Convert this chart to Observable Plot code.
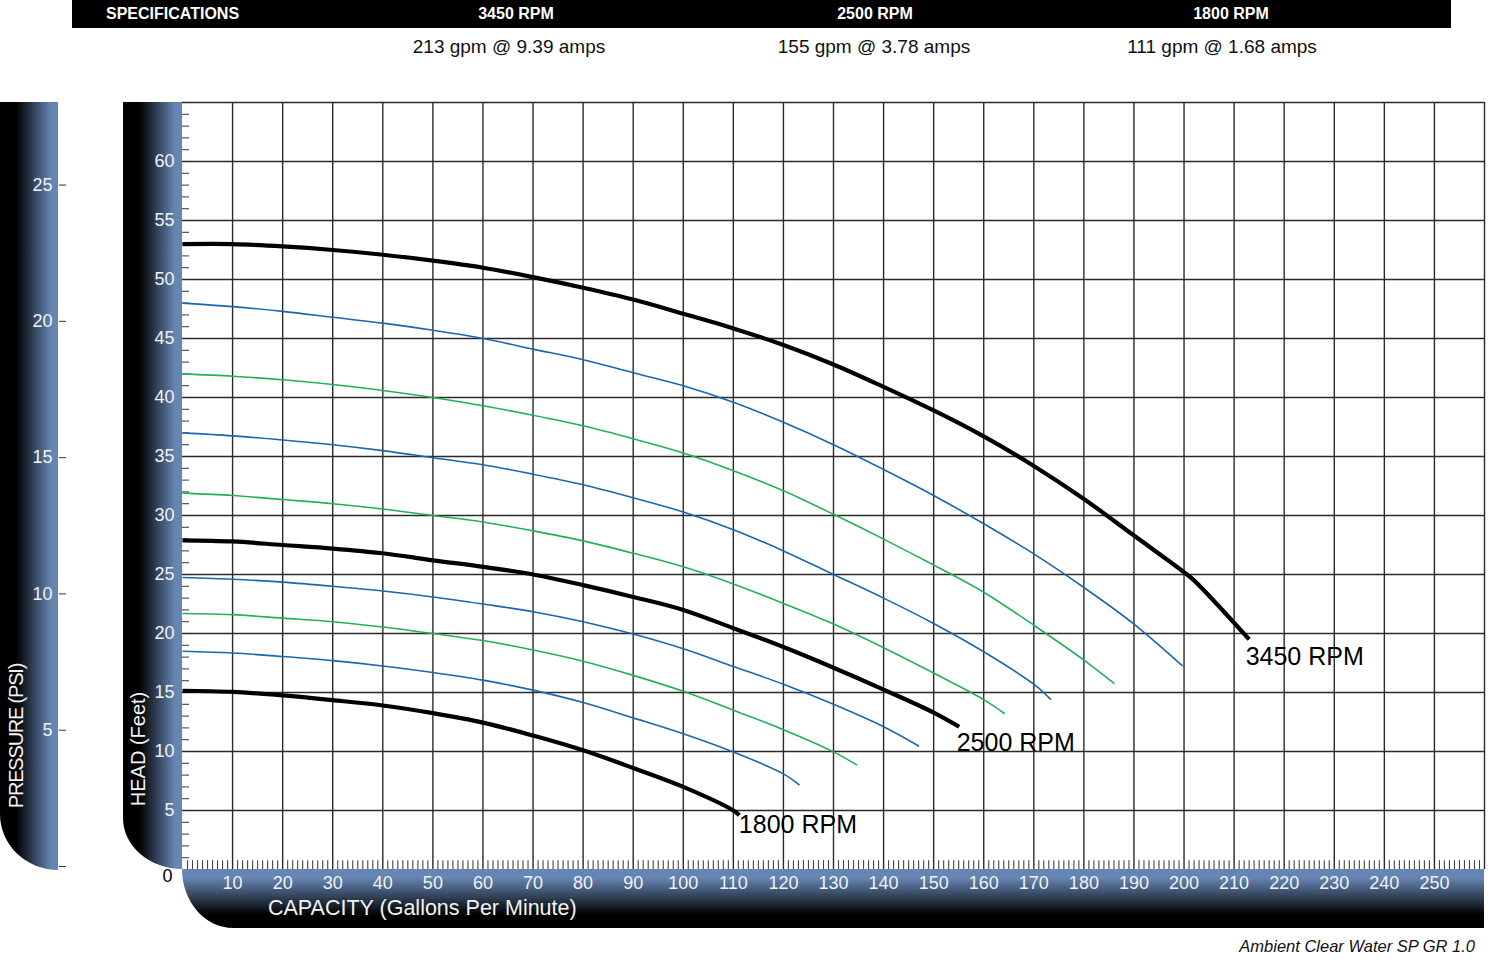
<!DOCTYPE html>
<html>
<head>
<meta charset="utf-8">
<script src="https://cdn.jsdelivr.net/npm/d3@7"></script>
<script src="https://cdn.jsdelivr.net/npm/@observablehq/plot@0.6"></script>
<style>
  body { margin: 0; background: #fff; font-family: "Liberation Sans", Arial, Helvetica, sans-serif; }
  #page { position: relative; width: 1500px; height: 959px; overflow: hidden; }
  .abs { position: absolute; white-space: nowrap; }
  .bandV { background: linear-gradient(to right, #000 0%, #000 28%, #6585b2 88%, #6585b2 100%); }
  .bandH { background: linear-gradient(to bottom, #6585b2 0%, #6585b2 15%, #000 78%, #000 100%); }
  .hdr { color: #fff; font-weight: bold; font-size: 16px; line-height: 28px; top: 0; }
  .spec { color: #111; font-size: 19px; line-height: 24px; top: 35px; }
  .vlabel { color: #f2f2f2; font-size: 20px; transform: translate(-50%, -50%) rotate(-90deg); }
</style>
</head>
<body>
<div id="page">
  <div class="abs" style="left:72px;top:0;width:1379px;height:28px;background:#000"></div>
  <div class="abs bandV" style="left:0;top:102px;width:58px;height:768px;border-bottom-left-radius:58px 56px"></div>
  <div class="abs bandV" style="left:123px;top:102px;width:59px;height:767px;border-bottom-left-radius:59px 51px"></div>
  <div class="abs bandH" style="left:182px;top:869px;width:1302px;height:59px;border-bottom-left-radius:51px 59px"></div>
  <div id="chart"></div>
</div>
<script>
// header texts
const specTitle = "SPECIFICATIONS";
const specRpm = ["3450 RPM", "2500 RPM", "1800 RPM"];
const specFlow = ["213 gpm @ 9.39 amps", "155 gpm @ 3.78 amps", "111 gpm @ 1.68 amps"];

// axis ticks
const gpmTicks = [10, 20, 30, 40, 50, 60, 70, 80, 90, 100, 110, 120, 130, 140, 150, 160, 170, 180, 190, 200, 210, 220, 230, 240, 250];
const headTicks = [5, 10, 15, 20, 25, 30, 35, 40, 45, 50, 55, 60];
const psiTicks = [0, 5, 10, 15, 20, 25];
const FT_PER_PSI = 2.31;

// pump curves: capacity (gpm) and head (feet)
const q3450 = [0, 10, 20, 30, 40, 50, 60, 70, 80, 90, 100, 110, 120, 130, 140, 150, 160, 170, 180, 190, 200, 202, 213];
const h3450 = [53.0, 53.0, 52.8, 52.5, 52.1, 51.6, 51.0, 50.2, 49.3, 48.3, 47.1, 45.85, 44.45, 42.8, 40.9, 38.9, 36.7, 34.2, 31.4, 28.3, 25.2, 24.5, 19.5];

const qBlue1 = [0, 10, 20, 30, 40, 50, 60, 70, 80, 90, 100, 110, 120, 130, 140, 150, 160, 170, 180, 190, 199.7];
const hBlue1 = [48.0, 47.7, 47.3, 46.8, 46.3, 45.7, 45.0, 44.1, 43.2, 42.1, 41.0, 39.6, 37.9, 36.0, 33.9, 31.7, 29.3, 26.75, 23.9, 20.8, 17.25];

const qGreen1 = [0, 10, 20, 30, 40, 50, 60, 70, 80, 90, 100, 110, 120, 130, 140, 150, 160, 170, 180, 186.1];
const hGreen1 = [42.0, 41.8, 41.5, 41.1, 40.6, 40.0, 39.3, 38.5, 37.6, 36.5, 35.3, 33.8, 32.1, 30.1, 28.0, 25.8, 23.5, 20.7, 17.75, 15.75];

const qBlue2 = [0, 10, 20, 30, 40, 50, 60, 70, 80, 90, 100, 110, 120, 130, 140, 150, 160, 170, 173.4];
const hBlue2 = [37.0, 36.75, 36.4, 36.0, 35.5, 34.9, 34.3, 33.5, 32.6, 31.5, 30.3, 28.8, 27.0, 25.0, 23.0, 20.85, 18.45, 15.7, 14.4];

const qGreen2 = [0, 10, 20, 30, 40, 50, 60, 70, 80, 90, 100, 110, 120, 130, 140, 150, 160, 164.2];
const hGreen2 = [31.9, 31.7, 31.35, 31.0, 30.55, 30.0, 29.45, 28.7, 27.85, 26.8, 25.65, 24.2, 22.55, 20.8, 18.8, 16.65, 14.4, 13.2];

const q2500 = [0, 10, 20, 30, 40, 50, 60, 70, 80, 90, 100, 110, 120, 130, 140, 150, 155.1];
const h2500 = [27.9, 27.8, 27.5, 27.2, 26.8, 26.2, 25.65, 25.0, 24.1, 23.1, 22.0, 20.45, 18.85, 17.1, 15.25, 13.3, 12.1];

const qBlue3 = [0, 10, 20, 30, 40, 50, 60, 70, 80, 90, 100, 110, 120, 130, 140, 147.1];
const hBlue3 = [24.75, 24.6, 24.35, 24.0, 23.6, 23.1, 22.5, 21.85, 21.0, 19.95, 18.7, 17.2, 15.7, 14.0, 12.1, 10.45];

const qGreen3 = [0, 10, 20, 30, 40, 50, 60, 70, 80, 90, 100, 110, 120, 130, 134.7];
const hGreen3 = [21.7, 21.6, 21.3, 21.0, 20.55, 20.0, 19.4, 18.6, 17.65, 16.45, 15.1, 13.5, 11.85, 9.97, 8.85];

const qBlue4 = [0, 10, 20, 30, 40, 50, 60, 70, 80, 90, 100, 110, 120, 123.2];
const hBlue4 = [18.5, 18.35, 18.05, 17.7, 17.25, 16.7, 16.05, 15.2, 14.15, 12.85, 11.5, 9.95, 8.1, 7.15];

const q1800 = [0, 10, 20, 30, 40, 50, 60, 70, 80, 90, 100, 110, 111.2];
const h1800 = [15.15, 15.05, 14.75, 14.35, 13.9, 13.25, 12.45, 11.35, 10.1, 8.6, 7.0, 5.0, 4.6];

// curve end labels
const rpmNames = ["3450 RPM", "2500 RPM", "1800 RPM"];
const rpmLabelQ = [212.3, 154.6, 111.1];
const rpmLabelH = [18.0, 10.75, 3.75];

const BLUE = "#1a67ad";
const GREEN = "#22b159";
const GRID = "#2a2a2a";

const page = document.getElementById("page");

function addText(txt, cls, style) {
  const el = document.createElement("div");
  el.className = "abs " + cls;
  el.textContent = txt;
  Object.assign(el.style, style);
  page.append(el);
  return el;
}

// header row
addText(specTitle, "hdr", {left: "106px"});
const rpmCenters = [516, 875, 1231];
const flowCenters = [509, 874, 1222];
specRpm.forEach((t, i) => addText(t, "hdr", {left: rpmCenters[i] + "px", transform: "translateX(-50%)"}));
specFlow.forEach((t, i) => addText(t, "spec", {left: flowCenters[i] + "px", transform: "translateX(-50%)"}));

// axis titles
addText("PRESSURE (PSI)", "vlabel", {left: "16px", top: "736px", letterSpacing: "-1.2px"});
addText("HEAD (Feet)", "vlabel", {left: "138px", top: "749px"});
addText("CAPACITY (Gallons Per Minute)", "", {left: "268px", top: "894px", color: "#f2f2f2", fontSize: "21.5px", lineHeight: "28px"});
addText("Ambient Clear Water SP GR 1.0", "", {right: "25px", top: "936px", color: "#111", fontSize: "16.5px", fontStyle: "italic", lineHeight: "20px"});

function pumpLine(q, h, color, width) {
  return Plot.line(d3.zip(q, h), {stroke: color, strokeWidth: width, curve: "catmull-rom", strokeLinecap: "butt"});
}

const plot = Plot.plot({
  width: 1500,
  height: 959,
  marginLeft: 182,
  marginRight: 16,
  marginTop: 102,
  marginBottom: 90,
  x: {domain: [0, 260]},
  y: {domain: [0, 65]},
  style: {background: "transparent", overflow: "visible", fontFamily: "'Liberation Sans', Arial, sans-serif", position: "absolute", left: "0px", top: "0px"},
  marks: [
    Plot.ruleX(gpmTicks, {stroke: GRID, strokeWidth: 1.4}),
    Plot.ruleY(headTicks, {stroke: GRID, strokeWidth: 1.4}),
    Plot.ruleX([260], {stroke: GRID, strokeWidth: 1.4}),
    Plot.ruleY([65], {stroke: GRID, strokeWidth: 1.4}),
    Plot.ruleX(d3.range(1, 260).filter(d => d % 10), {y1: 0, y2: 0.75, stroke: "#444", strokeWidth: 1.1}),
    Plot.ruleY(d3.range(1, 65).filter(d => d % 5), {x1: 0, x2: 1.4, stroke: "#444", strokeWidth: 1.1}),
    pumpLine(qBlue4, hBlue4, BLUE, 1.6),
    pumpLine(qGreen3, hGreen3, GREEN, 1.6),
    pumpLine(qBlue3, hBlue3, BLUE, 1.6),
    pumpLine(qGreen2, hGreen2, GREEN, 1.6),
    pumpLine(qBlue2, hBlue2, BLUE, 1.6),
    pumpLine(qGreen1, hGreen1, GREEN, 1.6),
    pumpLine(qBlue1, hBlue1, BLUE, 1.6),
    pumpLine(q1800, h1800, "#000", 4.2),
    pumpLine(q2500, h2500, "#000", 4.2),
    pumpLine(q3450, h3450, "#000", 4.2),
    Plot.text(rpmNames, {x: rpmLabelQ, y: rpmLabelH, text: d => d, textAnchor: "start", fontSize: 25, fill: "#000"}),
    Plot.axisX({ticks: gpmTicks, tickSize: 0, tickPadding: 7, fill: "#f0f2f5", fontSize: 18, label: null}),
    Plot.axisY({ticks: headTicks, tickSize: 0, tickPadding: 8, fill: "#f0f2f5", fontSize: 18, label: null}),
    Plot.axisY({ticks: [0], tickSize: 0, tickPadding: 10, dy: 7, fill: "#000", fontSize: 18, label: null}),
    Plot.axisY({
      ticks: psiTicks.map(p => p * FT_PER_PSI),
      tickFormat: d => (Math.round(d / FT_PER_PSI) || ""),
      tickSize: 7, tickPadding: 7, dx: -116, dy: -3,
      stroke: "#333", fill: "#f0f2f5", fontSize: 18, label: null
    })
  ]
});

document.getElementById("chart").append(plot);
</script>
</body>
</html>
